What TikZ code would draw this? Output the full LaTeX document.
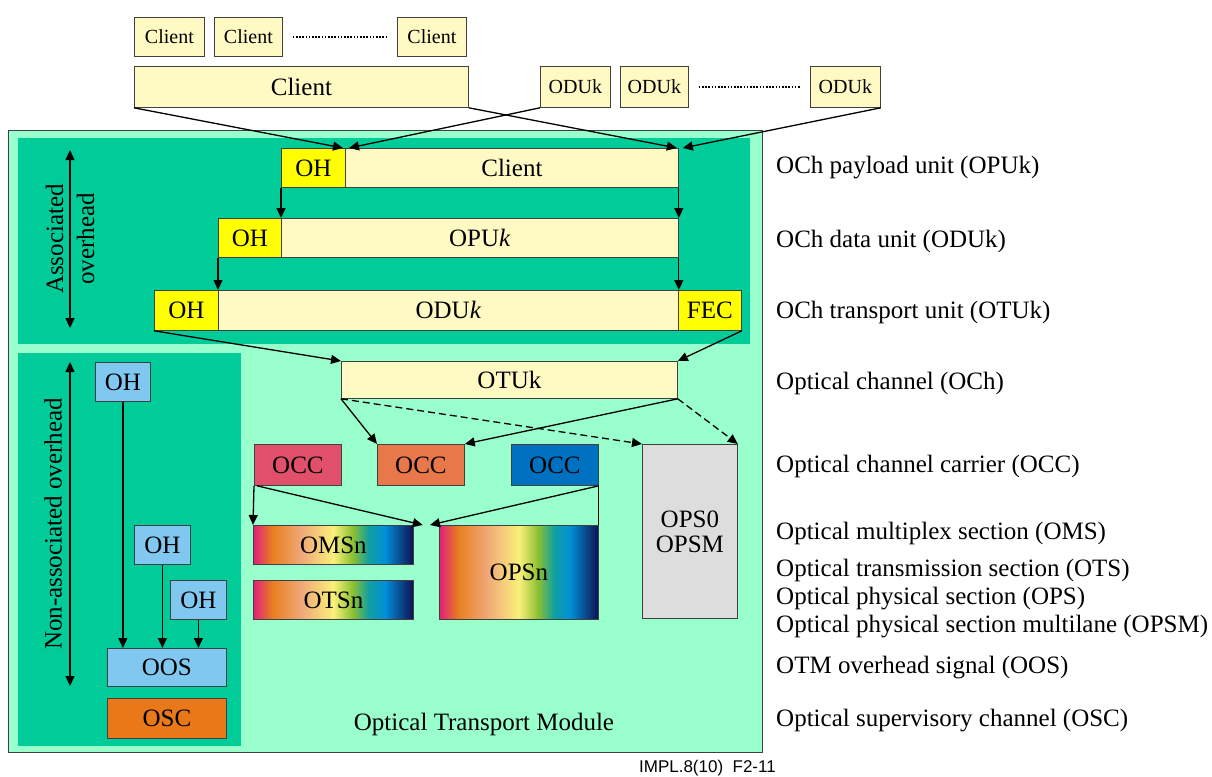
\documentclass[tikz,border=0pt]{standalone}
\usepackage{fontspec}
\setmainfont{Liberation Serif}
\newfontfamily\labsans{Liberation Sans}
\usetikzlibrary{arrows.meta}
\definecolor{mint}{HTML}{99FFCC}
\definecolor{deepg}{HTML}{00CC99}
\definecolor{ly}{HTML}{FFFAC4}
\definecolor{yel}{HTML}{FFFF00}
\definecolor{occr}{HTML}{E0506A}
\definecolor{occo}{HTML}{E8784A}
\definecolor{occb}{HTML}{0070C0}
\definecolor{ohb}{HTML}{80C8F0}
\definecolor{osco}{HTML}{E87818}
\definecolor{grayb}{HTML}{DDDDDD}
\definecolor{boxline}{HTML}{404040}
\definecolor{sp1}{HTML}{E0207A}
\definecolor{sp2}{HTML}{E88020}
\definecolor{sp3}{HTML}{F0A878}
\definecolor{sp4}{HTML}{FAF07A}
\definecolor{sp5}{HTML}{8CC030}
\definecolor{sp6}{HTML}{10A0A0}
\definecolor{sp7}{HTML}{0090D8}
\definecolor{sp8}{HTML}{101050}
\pgfdeclarehorizontalshading{spectrum}{100bp}{color(0bp)=(sp1); color(25bp)=(sp1); color(31bp)=(sp2); color(40bp)=(sp3); color(50bp)=(sp4); color(56bp)=(sp5); color(61bp)=(sp6); color(66bp)=(sp7); color(75bp)=(sp8); color(100bp)=(sp8)}
\begin{document}
\begin{tikzpicture}[x=1pt,y=-1pt,
  box/.style={draw=boxline, line width=0.8pt, inner sep=0pt, anchor=north west, font=\fontsize{25}{27}\selectfont},
  sbox/.style={box, fill=ly, font=\fontsize{20}{22}\selectfont},
  arr/.style={-{Triangle[length=10pt,width=9pt]}, line width=1.3pt},
  darr/.style={{Triangle[length=10pt,width=9pt]}-{Triangle[length=10pt,width=9pt]}, line width=1.3pt},
  dsh/.style={arr, dash pattern=on 7pt off 4pt},
  dots/.style={line width=1.6pt, dash pattern=on 1.6pt off 1.6pt},
  lab/.style={anchor=west, inner sep=0pt, font=\fontsize{25}{27}\selectfont},
  panel/.style={inner sep=0pt, anchor=north west}
]
\useasboundingbox (0,0) rectangle (1212,776);
% panels
\node[panel, fill=mint, draw=boxline, line width=1.4pt, minimum width=754pt, minimum height=622pt] (outer) at (8,130) {};
\node[panel, fill=deepg, minimum width=732pt, minimum height=206pt] (topp) at (18,138) {};
\node[panel, fill=deepg, minimum width=223pt, minimum height=393pt] (lowp) at (18,353) {};
% top clients
\node[sbox, minimum width=70pt, minimum height=39pt] (c1) at (134,17) {Client};
\node[sbox, minimum width=68pt, minimum height=39pt] (c2) at (214,17) {Client};
\node[sbox, minimum width=69pt, minimum height=39pt] (c3) at (397,17) {Client};
\draw[dots] ([xshift=10pt]c2.east) -- ([xshift=-11pt]c3.west);
\node[box, fill=ly, minimum width=334pt, minimum height=41pt] (cb) at (134,66) {Client};
\node[sbox, minimum width=70pt, minimum height=41pt] (o1) at (540,66) {ODUk};
\node[sbox, minimum width=68pt, minimum height=41pt] (o2) at (620,66) {ODUk};
\node[sbox, minimum width=70pt, minimum height=41pt] (o3) at (810,66) {ODUk};
\draw[dots] ([xshift=10pt]o2.east) -- ([xshift=-10pt]o3.west);
% rows
\node[box, fill=yel, minimum width=64pt, minimum height=39pt] (opuoh) at (281,148) {OH};
\node[box, fill=ly, minimum width=333pt, minimum height=39pt] (opucl) at (345,148) {Client};
\node[box, fill=yel, minimum width=63pt, minimum height=39pt] (oduoh) at (218,218) {OH};
\node[box, fill=ly, minimum width=397pt, minimum height=39pt] (oduopu) at (281,218) {OPU\textit{k}};
\node[box, fill=yel, minimum width=64pt, minimum height=40pt] (otuoh) at (154,290) {OH};
\node[box, fill=ly, minimum width=460pt, minimum height=40pt] (otuodu) at (218,290) {ODU\textit{k}};
\node[box, fill=yel, minimum width=63pt, minimum height=40pt] (fec) at (678,290) {FEC};
\node[box, fill=ly, minimum width=336pt, minimum height=37pt] (otuk) at (341,361) {OTUk};
% OCC
\node[box, fill=occr, minimum width=87pt, minimum height=41pt] (occ1) at (254,444) {OCC};
\node[box, fill=occo, minimum width=87pt, minimum height=41pt] (occ2) at (377,444) {OCC};
\node[box, fill=occb, minimum width=87pt, minimum height=41pt] (occ3) at (511,444) {OCC};
\node[box, fill=grayb, minimum width=95pt, minimum height=174pt, align=center] (ops0) at (642,444) {OPS0\\[-2pt]OPSM};
\node[box, shading=spectrum, minimum width=160pt, minimum height=39pt] (oms) at (253,525) {OMSn};
\node[box, shading=spectrum, minimum width=160pt, minimum height=39pt] (ots) at (253,580) {OTSn};
\node[box, shading=spectrum, minimum width=159pt, minimum height=94pt] (opsn) at (439,525) {OPSn};
% left OH
\node[box, fill=ohb, minimum width=55pt, minimum height=39pt] (oh1) at (95,362) {OH};
\node[box, fill=ohb, minimum width=56pt, minimum height=39pt] (oh2) at (134,525) {OH};
\node[box, fill=ohb, minimum width=56pt, minimum height=39pt] (oh3) at (170,580) {OH};
\node[box, fill=ohb, minimum width=119pt, minimum height=38pt] (oos) at (107,648) {OOS};
\node[box, fill=osco, minimum width=119pt, minimum height=40pt] (osc) at (107,698) {OSC};
% vertical overhead arrows
\coordinate (a1) at (70,150);
\coordinate (a2) at (70,328);
\coordinate (n1) at (70,362);
\coordinate (n2) at (70,686);
\draw[darr] (a1) -- (a2);
\draw[darr] (n1) -- (n2);
\node[rotate=90, align=center, inner sep=0pt, font=\fontsize{25}{31}\selectfont] (assoc) at (70,239) {Associated\\overhead};
\node[rotate=90, inner sep=0pt, font=\fontsize{25}{27}\selectfont] (nonassoc) at (53,524) {Non-associated overhead};
% arrows top
\draw[arr] (cb.south west) -- ([xshift=-2pt]opucl.north west);
\draw[arr] (o1.south west) -- ([xshift=4pt]opucl.north west);
\draw[arr] (cb.south east) -- ([xshift=-2pt]opucl.north east);
\draw[arr] (o3.south east) -- ([xshift=4pt]opucl.north east);
\draw[arr] (opuoh.south west) -- (oduopu.north west);
\draw[arr] (opucl.south east) -- (oduopu.north east);
\draw[arr] (oduoh.south west) -- (otuodu.north west);
\draw[arr] (oduopu.south east) -- (otuodu.north east);
\draw[arr] (otuoh.south west) -- (otuk.north west);
\draw[arr] (fec.south east) -- (otuk.north east);
% OTUk to OCC
\draw[arr] (otuk.south west) -- (occ2.north west);
\draw[arr] (otuk.south east) -- (occ2.north east);
\draw[dsh] (otuk.south west) -- (ops0.north west);
\draw[dsh] (otuk.south east) -- (ops0.north east);
% OCC to sections
\draw[arr] (occ1.south west) -- (oms.north west);
\draw[arr] ([xshift=3pt]occ1.south west) -- ([xshift=9pt]oms.north east);
\draw[arr] (occ3.south east) -- ([xshift=-9pt]opsn.north west);
\draw[line width=1.3pt] (occ3.south east) -- (opsn.north east);
% left arrows
\draw[arr] (oh1.south) -- (oh1.south |- oos.north);
\draw[arr] (oh2.south) -- (oh2.south |- oos.north);
\draw[arr] (oh3.south) -- (oh3.south |- oos.north);
% text
\node[inner sep=0pt, font=\fontsize{25}{27}\selectfont] (otm) at (484,724) {Optical Transport Module};
\node[lab] (l1) at (776,168) {OCh payload unit (OPUk)};
\node[lab] (l2) at (776,241) {OCh data unit (ODUk)};
\node[lab] (l3) at (776,312) {OCh transport unit (OTUk)};
\node[lab] (l4) at (776,383) {Optical channel (OCh)};
\node[lab] (l5) at (776,466) {Optical channel carrier (OCC)};
\node[lab] (l6) at (776,533) {Optical multiplex section (OMS)};
\node[lab] (l7) at (776,570) {Optical transmission section (OTS)};
\node[lab] (l8) at (776,599) {Optical physical section (OPS)};
\node[lab] (l9) at (776,627) {Optical physical section multilane (OPSM)};
\node[lab] (l10) at (776,668) {OTM overhead signal (OOS)};
\node[lab] (l11) at (776,721) {Optical supervisory channel (OSC)};
\node[anchor=east, inner sep=0pt, font=\labsans\fontsize{17}{19}\selectfont] (ref) at (776,768) {IMPL.8(10)\ \ F2-11};
\end{tikzpicture}
\end{document}
